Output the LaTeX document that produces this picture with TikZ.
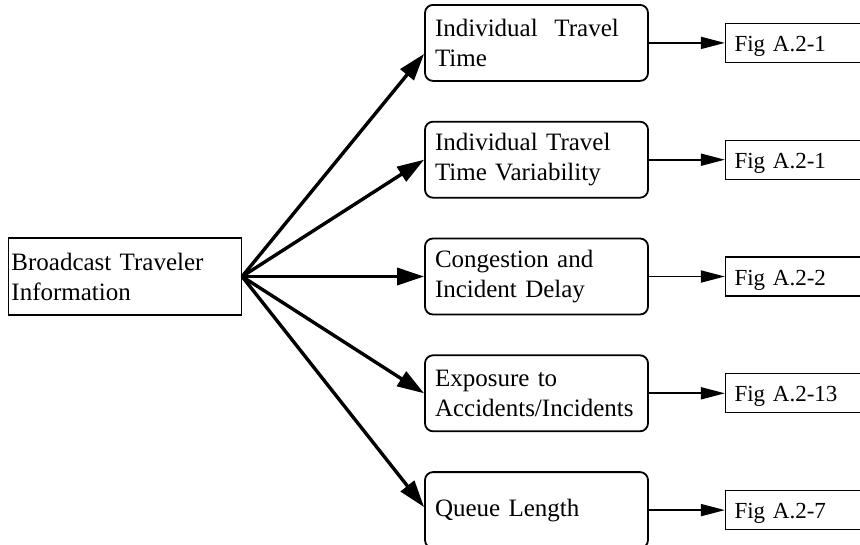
\documentclass[tikz,border=0pt]{standalone}
\usepackage{fontspec}
\setmainfont{Liberation Serif}
\usetikzlibrary{arrows.meta,positioning}

\begin{document}
\begin{tikzpicture}[x=1pt, y=-1pt,
    measure/.style={draw, line width=1.8pt, rounded corners=8pt, minimum width=223pt, minimum height=76pt, text width=203pt, inner xsep=10pt, align=left, font=\fontsize{25}{30}\selectfont},
    figbox/.style={draw, line width=1.3pt, minimum width=150pt, minimum height=39pt, text width=132pt, text height=17pt, text depth=0pt, inner xsep=9pt, align=left, font=\fontsize{23}{27}\selectfont},
    source/.style={draw, line width=1.3pt, minimum width=233pt, minimum height=77pt, text width=227pt, inner xsep=3pt, align=left, font=\fontsize{25}{30}\selectfont},
    feed/.style={-{Triangle[length=27pt, width=17pt]}, line width=3.4pt},
    link/.style={-{Triangle[length=24pt, width=12pt]}, line width=1.8pt}]
    \path[use as bounding box, clip] (0,0) rectangle (860,544);
    \node[measure] (m3) at (536.5,276.5) {Congestion and\\Incident Delay};
    \node[measure, above=39pt of m3] (m2) {Individual Travel\\Time Variability};
    \node[measure, above=39pt of m2] (m1) {Individual\ \ Travel\\Time};
    \node[measure, below=39pt of m3] (m4) {Exposure to\\Accidents/Incidents};
    \node[measure, below=39pt of m4] (m5) {Queue Length};
    \node[source, left=182pt of m3] (src) {Broadcast Traveler\\Information};
    \node[figbox, right=76pt of m1] (f1) {Fig A.2-1};
    \node[figbox, right=76pt of m2] (f2) {Fig A.2-1};
    \node[figbox, right=76pt of m3] (f3) {Fig A.2-2};
    \node[figbox, right=76pt of m4] (f4) {Fig A.2-13};
    \node[figbox, right=76pt of m5] (f5) {Fig A.2-7};
    \draw[feed] (src.east) -- ([yshift=-11pt]m1.west);
    \draw[feed] (src.east) -- (m2.west);
    \draw[feed] (src.east) -- (m3.west);
    \draw[feed] (src.east) -- (m4.west);
    \draw[feed] (src.east) -- ([yshift=3pt]m5.west);
    \draw[link] (m1.east) -- (f1.west);
    \draw[link] (m2.east) -- (f2.west);
    \draw[link] (m3.east) -- (f3.west);
    \draw[link] (m4.east) -- (f4.west);
    \draw[link] (m5.east) -- (f5.west);
\end{tikzpicture}
\end{document}
